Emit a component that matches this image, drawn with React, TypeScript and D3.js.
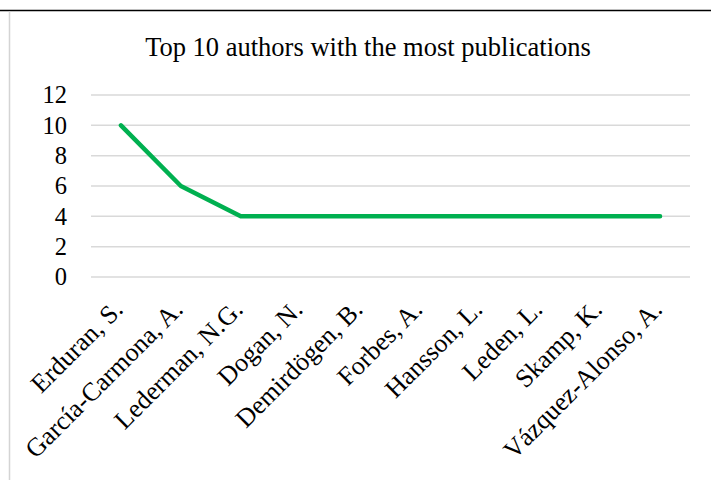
import React from "react";
import * as d3 from "d3";

const authors = [
  "Erduran, S.",
  "García-Carmona, A.",
  "Lederman, N.G.",
  "Dogan, N.",
  "Demirdögen, B.",
  "Forbes, A.",
  "Hansson, L.",
  "Leden, L.",
  "Skamp, K.",
  "Vázquez-Alonso, A.",
];
const publications = [10, 6, 4, 4, 4, 4, 4, 4, 4, 4];
const yTicks = [0, 2, 4, 6, 8, 10, 12];
const title = "Top 10 authors with the most publications";

const W = 711;
const H = 480;
const font = "Liberation Serif, Times New Roman, DejaVu Serif, serif";

export default function App() {
  const x = d3.scaleBand<string>().domain(authors).range([91, 690]).padding(0);
  const y = d3.scaleLinear().domain([0, 12]).range([277, 95]);
  const cx = (a: string) => (x(a) as number) + x.bandwidth() / 2;
  const line = d3
    .line<number>()
    .x((_, i) => cx(authors[i]))
    .y((d) => y(d));

  return (
    <svg
      width={W}
      height={H}
      style={{ position: "absolute", left: 0, top: 0, background: "#fff" }}
    >
      <rect x={0} y={0} width={W} height={H} fill="#fff" />
      <line x1={0} x2={W} y1={10.5} y2={10.5} stroke="#000" strokeWidth={1.5} />
      <line x1={9.5} x2={9.5} y1={11.5} y2={H} stroke="#d4d4d4" strokeWidth={1.5} />
      <text
        x={368}
        y={56}
        textAnchor="middle"
        fontSize={26.5}
        fontFamily={font}
        fill="#000"
      >
        {title}
      </text>
      {yTicks.map((t) => (
        <g key={t}>
          <line
            x1={91}
            x2={690}
            y1={y(t)}
            y2={y(t)}
            stroke="#d9d9d9"
            strokeWidth={1.5}
          />
          <text
            x={67}
            y={y(t)}
            dy="0.34em"
            textAnchor="end"
            fontSize={24.5}
            fontFamily={font}
            fill="#000"
          >
            {t}
          </text>
        </g>
      ))}
      <path
        d={line(publications) || ""}
        fill="none"
        stroke="#00b050"
        strokeWidth={4.5}
        strokeLinejoin="round"
        strokeLinecap="round"
      />
      {authors.map((a) => (
        <text
          key={a}
          transform={`translate(${cx(a) + 3.5},311) rotate(-45)`}
          textAnchor="end"
          fontSize={26}
          fontFamily={font}
          fill="#000"
        >
          {a}
        </text>
      ))}
    </svg>
  );
}
